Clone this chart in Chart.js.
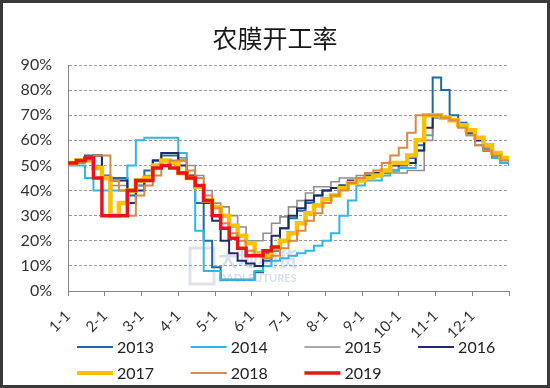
<!DOCTYPE html>
<html><head><meta charset="utf-8">
<script src="https://cdn.jsdelivr.net/npm/chart.js@4/dist/chart.umd.min.js"></script>
<style>html,body{margin:0;padding:0;background:#fff}#wrap{width:550px;height:388px;position:relative}canvas{display:block}</style>
</head><body><div id="wrap"><canvas id="c" width="550" height="388"></canvas></div>
<script>
const chartTitle = '农膜开工率';
const monthLabels = ['1-1','2-1','3-1','4-1','5-1','6-1','7-1','8-1','9-1','10-1','11-1','12-1'];
const WEEKS_PER_YEAR = 52;
const yearNames = ['2013','2014','2015','2016','2017','2018','2019'];
// weekly operating rate (%), week 0 .. week 52
const s2013 = [51,52,54,54,46,45,45,38,42,48, 52,54,54,52,45,35,20,9.5,4.5,4.5, 4.5,4.5,7.5,12,16,25,29,32,35,38, 40,41,42,43,44,45,46,47,48,50, 53,58,70,85,80,70,67,64,60,57, 53,51,50];
const s2014 = [50,50,45,40,40,40,40,50,60,61, 61,61,61,55,45,24,8,8,4.5,4.5, 4.5,4.5,8,10,12,13,14,15,16,18, 20,23,30,36,42,44,44,46,48,49, 49,56,62,69,69,68,66,62,58,56, 53,51,50];
const s2015 = [51,52,53,50,45,42,42,40,42,46, 52,55,55,53,50,46,40,35,33.5,30, 25.5,20,20,23,27,29.5,33.5,36,39,41.5, 41.5,43.5,45,45,46,47,47,47,47,47, 48,48,60,69,69,68,66,63,60,57, 54,52,51];
const s2016 = [51,52,53,54,45,44,44,35,40,45, 52,55,55,50,46,42,35,28,20,15, 12,11,10,15,22,25,30,33,36,38, 40,41,42,44,45,46,47,48,50,51, 51,56,65,70,69,68,66,63,60,56, 54,53,52];
const s2017 = [51,52,52,49,45,30,35,40,44,45, 50,52,51,47,45,41.5,36,33.5,30,26, 22,19,15,14,17,20,23,27,31,34, 36.5,38,41,43,44,45,46,48,51,51, 54,60,70,70,69,68,66,64,61,58, 55,53,52];
const s2018 = [51,51,52,54,54,44,40,30,38,42, 46,50,52,52,48,45,38,33,27,23, 20,16,14,13,14,17,20,24,28,31, 35,38,40,43,45,47,48,51,54,57, 63,70,70,70,69,68,65,62,58,56, 54,52,51];
const s2019 = [51,52,53,45,30,30,30,40,44,44, 49,50,49,47,45,42,36,30,25,21, 17,14,14,16,17.5,17.5];
const seriesValues = [s2013,s2014,s2015,s2016,s2017,s2018,s2019];
const colors = ['#2368A2','#35B4E6','#8F8F8F','#1F2B66','#FFC000','#D58A47','#E8141B'];
const widths = [2,2,1.6,2,4.5,2,3.5];

const toPoints = arr => arr.map((v,i)=>({x: i*12/WEEKS_PER_YEAR, y: v}));

const datasets = yearNames.map((n,i)=>({
  label: n, data: toPoints(seriesValues[i]),
  borderColor: colors[i], backgroundColor: colors[i],
  borderWidth: widths[i], pointRadius: 0, stepped: true, fill: false,
  order: yearNames.length - i
}));

const deco = {
  id: 'deco',
  beforeDatasetsDraw(chart){
    const ctx = chart.ctx; ctx.save();
    ctx.fillStyle = 'rgba(120,140,185,0.28)';
    ctx.font = 'bold 20px "Noto Sans CJK SC"';
    ctx.textBaseline = 'middle'; ctx.textAlign = 'left';
    ctx.fillText('大地期货', 218, 259);
    ctx.font = 'bold 11px Lato';
    ctx.fillText('DADI FUTURES', 218, 278);
    ctx.strokeStyle = 'rgba(150,160,190,0.3)'; ctx.lineWidth = 3;
    ctx.strokeRect(190, 248, 24, 36);
    ctx.restore();
  },
  afterDraw(chart){
    const ctx = chart.ctx; ctx.save();
    ctx.fillStyle = '#1a1a1a';
    ctx.font = '25px "Noto Sans CJK SC"';
    ctx.textAlign = 'center'; ctx.textBaseline = 'middle';
    ctx.fillText(chartTitle, 275, 38);
    ctx.font = '16px Lato'; ctx.textAlign = 'left';
    chart.data.datasets.forEach((d,i)=>{
      const row = i < 4 ? 0 : 1, col = i % 4;
      const x0 = 77 + col*113.7, y = row ? 373 : 347;
      ctx.strokeStyle = d.borderColor;
      ctx.lineWidth = Math.min(d.borderWidth, 4);
      ctx.beginPath(); ctx.moveTo(x0, y); ctx.lineTo(x0+36, y); ctx.stroke();
      ctx.fillStyle = '#222';
      ctx.fillText(d.label, x0+40, y+1);
    });
    ctx.strokeStyle = '#3a3a3a'; ctx.lineWidth = 3;
    ctx.strokeRect(1.5, 1.5, 547, 385);
    ctx.restore();
  }
};

Chart.defaults.font.family = 'Lato';
new Chart(document.getElementById('c'), {
  type: 'line',
  data: { datasets },
  options: {
    responsive: false, animation: false, devicePixelRatio: 1,
    layout: { padding: { left: 0, right: 41, top: 65, bottom: 0 } },
    plugins: { legend: { display: false }, title: { display: false }, tooltip: { enabled: false } },
    scales: {
      x: {
        type: 'linear', min: 0, max: 12,
        afterFit: s => { s.height = 97; },
        ticks: { stepSize: 1, autoSkip: false, minRotation: 45, maxRotation: 45, padding: 11,
          color: '#333', font: { size: 15 },
          callback: v => monthLabels[Math.round(v)] ?? '' },
        grid: { drawOnChartArea: false, drawTicks: true, tickLength: 5, color: '#868686' },
        border: { color: '#868686', width: 1 }
      },
      y: {
        min: 0, max: 90,
        afterFit: s => { s.width = 68; },
        ticks: { stepSize: 10, padding: 16, color: '#333', font: { size: 16 }, callback: v => v + '%' },
        grid: { drawTicks: false, color: '#9a9a9a', lineWidth: 1 },
        border: { color: '#868686', width: 1, dash: [3,2] }
      }
    }
  },
  plugins: [deco]
});
</script>
</body></html>
